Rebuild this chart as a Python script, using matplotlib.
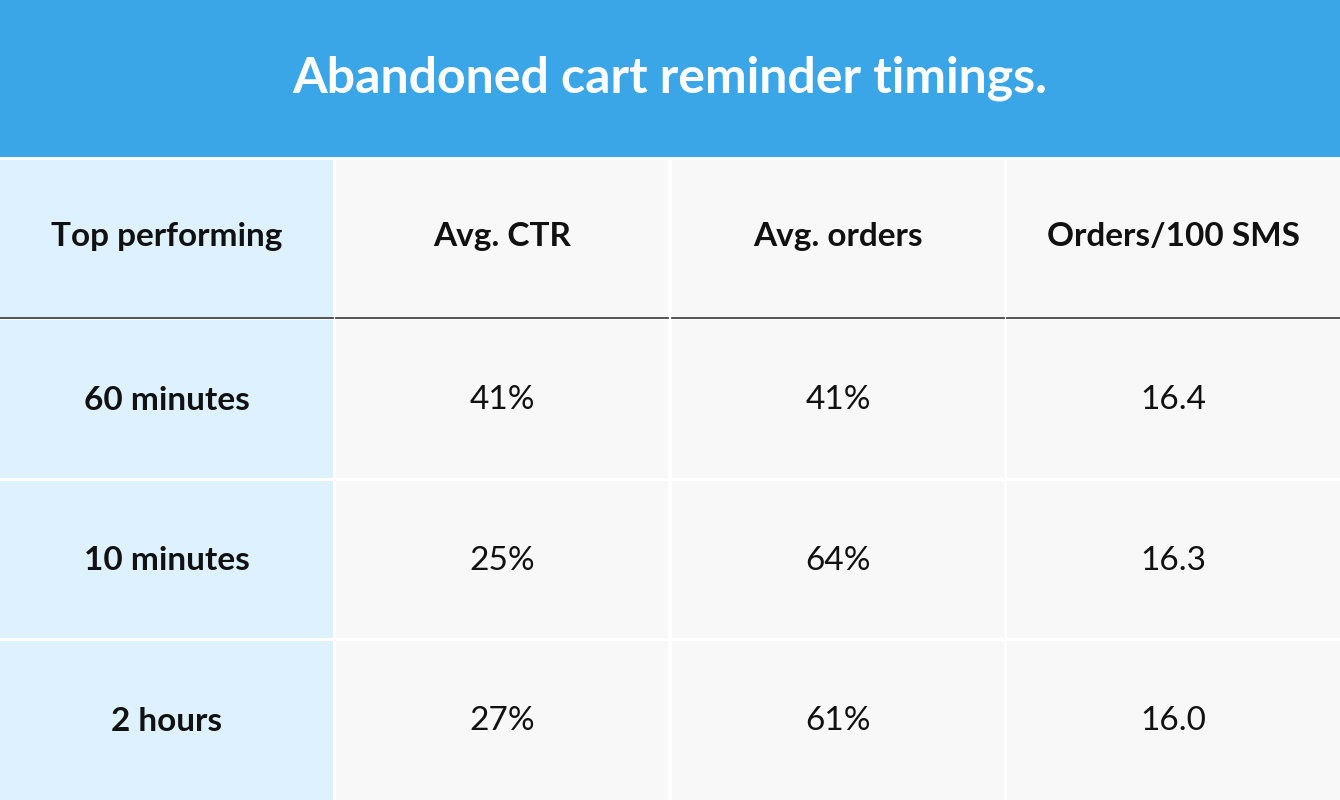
import matplotlib
matplotlib.use("Agg")
import matplotlib.pyplot as plt
from matplotlib.patches import Rectangle

title = "Abandoned cart reminder timings."
headers = ["Top performing", "Avg. CTR", "Avg. orders", "Orders/100 SMS"]
timings = ["60 minutes", "10 minutes", "2 hours"]
avg_ctr = ["41%", "25%", "27%"]
avg_orders = ["41%", "64%", "61%"]
orders_per_100 = ["16.4", "16.3", "16.0"]

W, H = 1340, 800
fig = plt.figure(figsize=(W/100, H/100), dpi=100)
ax = fig.add_axes([0, 0, 1, 1])
ax.set_xlim(0, W); ax.set_ylim(H, 0); ax.axis("off")
fig.patch.set_facecolor("white")

FONT = ["Lato", "DejaVu Sans"]
ax.add_patch(Rectangle((0, 0), W, 157, color="#3AA6E8", lw=0))
ax.text(W/2, 78, title, ha="center", va="center", color="white", fontsize=36,
        fontweight="bold", family=FONT)

cols = [(0, 333), (336, 668), (672, 1004), (1007, 1340)]
rows = [(160, 317), (320, 478), (481, 638), (641, 800)]
table = [headers] + [[t, a, o, p] for t, a, o, p in zip(timings, avg_ctr, avg_orders, orders_per_100)]

for ri, (y0, y1) in enumerate(rows):
    for ci, (x0, x1) in enumerate(cols):
        fc = "#DDF1FE" if ci == 0 else "#F8F8F8"
        ax.add_patch(Rectangle((x0, y0), x1-x0, y1-y0, color=fc, lw=0))
        bold = ri == 0 or ci == 0
        ax.text((x0+x1)/2, (y0+y1)/2 - 2 if ri == 0 else (y0+y1)/2 + 1, table[ri][ci],
                ha="center", va="center", fontsize=24, color="#111111",
                fontweight="bold" if bold else "normal", family=FONT)
    if ri == 0:
        for x0, x1 in cols:
            ax.plot([x0, x1], [317.5, 317.5], color="#444444", lw=1.3)

fig.savefig("out.png", dpi=100)
